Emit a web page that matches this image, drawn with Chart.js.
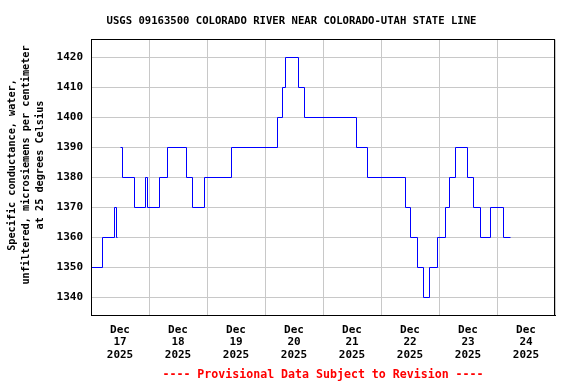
<!DOCTYPE html>
<html>
<head>
<meta charset="utf-8">
<script src="https://cdn.jsdelivr.net/npm/chart.js@4"></script>
<style>
  html, body { margin: 0; padding: 0; background: #ffffff; }
  #wrap { width: 576px; height: 384px; position: relative; }
</style>
</head>
<body>
<div id="wrap"><canvas id="c" width="576" height="384"></canvas></div>
<script>
// Hours since 2025-12-17 00:00 at which each new value begins (null = data gap)
const changeHours = [0, 4.9, 9.8, 10.6, 10.9, 11.5, 12.3, 13.2, 17.9, 22.6, 23.3, 28.3, 31.8, 39.6, 41.9, 47.1,
  58.1, 77.1, 79.4, 80.6, 85.8, 88.5, 110.0, 114.5, 130.3, 132.3, 135.0, 137.5, 140.2, 143.5, 146.6,
  148.5, 150.7, 155.7, 158.4, 161.1, 165.4, 170.8, 173.7];
const conductance = [1350, 1360, 1370, 1360, 1360, null, 1390, 1380, 1370, 1380, 1370, 1380, 1390, 1380, 1370, 1380,
  1390, 1400, 1410, 1420, 1410, 1400, 1390, 1380, 1370, 1360, 1350, 1340, 1350, 1360, 1370,
  1380, 1390, 1380, 1370, 1360, 1370, 1360, 1360];
const dayLabels = [['Dec','17','2025'], ['Dec','18','2025'], ['Dec','19','2025'], ['Dec','20','2025'],
  ['Dec','21','2025'], ['Dec','22','2025'], ['Dec','23','2025'], ['Dec','24','2025']];
const yTicks = [1340, 1350, 1360, 1370, 1380, 1390, 1400, 1410, 1420];
const titleText = 'USGS 09163500 COLORADO RIVER NEAR COLORADO-UTAH STATE LINE';
const yTitleLines = ['Specific conductance, water,', 'unfiltered, microsiemens per centimeter', 'at 25 degrees Celsius'];
const footerText = '---- Provisional Data Subject to Revision ----';

const FONT = '"DejaVu Sans Mono", "Liberation Mono", monospace';

const points = changeHours.map((h, i) => ({ x: h, y: conductance[i] }));

const crispPlugin = {
  id: 'crisp',
  afterDatasetsUpdate(chart) {
    chart.getDatasetMeta(0).data.forEach(p => {
      if (!p.skip) { p.x = Math.floor(p.x) + 0.5; p.y = Math.floor(p.y) + 0.5; }
    });
  }
};

const textPlugin = {
  id: 'usgsText',
  afterDraw(chart) {
    const ctx = chart.ctx;
    const a = chart.chartArea;
    ctx.save();
    // frame
    ctx.strokeStyle = '#000000';
    ctx.lineWidth = 1;
    ctx.strokeRect(Math.floor(a.left) + 0.5, Math.floor(a.top) + 0.5,
      Math.floor(a.right) - Math.floor(a.left) - 1, Math.floor(a.bottom) - Math.floor(a.top));
    // title
    ctx.fillStyle = '#000000';
    ctx.font = 'bold 10.6px ' + FONT;
    ctx.textAlign = 'center';
    ctx.textBaseline = 'middle';
    ctx.fillText(titleText, 291.5, 21);
    // footer
    ctx.fillStyle = '#ff0000';
    ctx.font = 'bold 11.6px ' + FONT;
    ctx.fillText(footerText, (a.left + a.right) / 2, 375);
    // y title
    ctx.fillStyle = '#000000';
    ctx.font = 'bold 10.2px ' + FONT;
    ctx.translate(0, 165);
    ctx.rotate(-Math.PI / 2);
    yTitleLines.forEach((t, i) => ctx.fillText(t, 0, 12 + i * 14));
    ctx.restore();
  }
};

new Chart(document.getElementById('c'), {
  type: 'line',
  data: {
    datasets: [{
      data: points,
      borderColor: '#0000ff',
      borderWidth: 1,
      pointRadius: 0,
      stepped: true,
      spanGaps: false,
      fill: false
    }]
  },
  options: {
    responsive: false,
    animation: false,
    devicePixelRatio: 1,
    layout: { padding: { top: 39.5, right: 21, left: 0, bottom: 0 } },
    plugins: { legend: { display: false }, title: { display: false }, tooltip: { enabled: false } },
    scales: {
      x: {
        type: 'linear',
        min: 0,
        max: 192,
        afterFit(s) { s.height = 68.5; },
        afterBuildTicks(s) {
          const t = [];
          for (let v = 0; v <= 192; v += 12) t.push({ value: v });
          s.ticks = t;
        },
        grid: {
          drawTicks: false,
          color: (c) => (c.tick && c.tick.value % 24 === 0) ? '#c8c8c8' : 'rgba(0,0,0,0)',
          lineWidth: 1
        },
        border: { display: true, color: '#000000' },
        ticks: {
          autoSkip: false,
          maxRotation: 0,
          padding: 8,
          color: '#000000',
          font: { family: FONT, size: 11, weight: 'bold', lineHeight: 1.16 },
          callback: (v) => (v % 24 === 12) ? dayLabels[(v - 12) / 24] : ''
        }
      },
      y: {
        min: 1334,
        max: 1426,
        afterFit(s) { s.width = 91; },
        afterBuildTicks(s) { s.ticks = yTicks.map(v => ({ value: v })); },
        grid: { drawTicks: false, color: '#c8c8c8', lineWidth: 1 },
        border: { display: true, color: '#000000' },
        ticks: {
          padding: 8,
          color: '#000000',
          font: { family: FONT, size: 11, weight: 'bold' },
          callback: (v) => String(v)
        }
      }
    }
  },
  plugins: [crispPlugin, textPlugin]
});
</script>
</body>
</html>
